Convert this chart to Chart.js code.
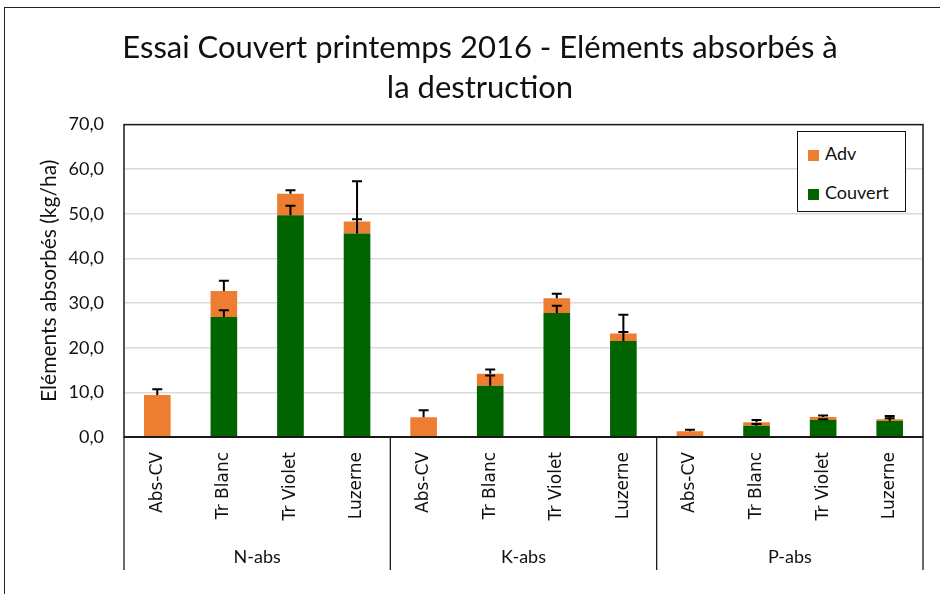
<!DOCTYPE html>
<html>
<head>
<meta charset="utf-8">
<script src="https://cdn.jsdelivr.net/npm/chart.js@4.4.1/dist/chart.umd.min.js"></script>
<style>
  html, body { margin: 0; padding: 0; background: #fff; overflow: hidden; }
  #wrap { position: relative; width: 940px; height: 594px; }
  #frame { position: absolute; left: 4px; top: 7px; width: 1000px; height: 700px; border: 1.5px solid #222; box-sizing: border-box; }
  #c { position: absolute; left: 0; top: 0; }
  #legend { position: absolute; left: 797px; top: 131px; width: 109px; height: 81px; border: 1.3px solid #111; box-sizing: border-box; background: #fff;
            font-family: Lato, "Open Sans", sans-serif; font-size: 18px; color: #111; }
  #legend div { position: absolute; left: 10px; }
  #legend span.sw { display: inline-block; width: 11px; height: 11px; margin-right: 6px; vertical-align: -1px; }
</style>
</head>
<body>
<div id="wrap">
  <div id="frame"></div>
  <canvas id="c" width="940" height="594"></canvas>
  <div id="legend"></div>
</div>
<script>
// categories (level 1) and groups (level 2)
var categories = ['Abs-CV', 'Tr Blanc', 'Tr Violet', 'Luzerne',
                  'Abs-CV', 'Tr Blanc', 'Tr Violet', 'Luzerne',
                  'Abs-CV', 'Tr Blanc', 'Tr Violet', 'Luzerne'];
var groups = ['N-abs', 'K-abs', 'P-abs'];

// series values (kg/ha)
var couvert = [0, 26.9, 49.7, 45.6,   0, 11.5, 27.8, 21.5,   0, 2.5, 3.8, 3.6];
var adv     = [9.4, 5.8, 4.8, 2.7,    4.4, 2.7, 3.3, 1.7,    1.3, 0.8, 0.7, 0.4];

// error bar amounts (plus only)
var errCouvert = [0, 1.5, 2.1, 3.2,   0, 2.3, 1.6, 2.0,   0, 0.4, 0.2, 0.6];
var errAdv     = [1.3, 2.3, 0.8, 9.0, 1.6, 0.9, 1.0, 4.2, 0.3, 0.5, 0.3, 0.7];

var yTicks = [0, 10, 20, 30, 40, 50, 60, 70];

var orange = '#ED7D31';
var green = '#006400';
var font = 'Lato, "Open Sans", sans-serif';

// legend (Adv first, like the original)
var legendEl = document.getElementById('legend');
[['Adv', orange, 10], ['Couvert', green, 49]].forEach(function (it) {
  var d = document.createElement('div');
  d.style.top = it[2] + 'px';
  d.innerHTML = '<span class="sw" style="background:' + it[1] + '"></span>' + it[0];
  legendEl.appendChild(d);
});

var extras = {
  id: 'extras',
  afterDatasetsDraw: function (chart) {
    var ctx = chart.ctx, x = chart.scales.x, y = chart.scales.y;
    var a = chart.chartArea;
    ctx.save();
    // error bars
    ctx.strokeStyle = '#000';
    ctx.lineWidth = 2;
    for (var i = 0; i < categories.length; i++) {
      var cx = x.getPixelForValue(i);
      var bars = [];
      if (couvert[i] > 0 && errCouvert[i] > 0) bars.push([couvert[i], couvert[i] + errCouvert[i]]);
      if (errAdv[i] > 0) bars.push([couvert[i] + adv[i], couvert[i] + adv[i] + errAdv[i]]);
      bars.forEach(function (b) {
        var y0 = y.getPixelForValue(b[0]), y1 = y.getPixelForValue(b[1]);
        ctx.beginPath();
        ctx.moveTo(cx, y0); ctx.lineTo(cx, y1);
        ctx.moveTo(cx - 5, y1); ctx.lineTo(cx + 5, y1);
        ctx.stroke();
      });
    }
    // plot area box
    ctx.strokeStyle = '#1a1a1a';
    ctx.lineWidth = 1.5;
    ctx.strokeRect(a.left, a.top, a.right - a.left, a.bottom - a.top);
    ctx.lineWidth = 2.2;
    ctx.beginPath(); ctx.moveTo(a.left, a.bottom); ctx.lineTo(a.right, a.bottom); ctx.stroke();

    // group separators and group labels
    var step = (x.getPixelForValue(1) - x.getPixelForValue(0));
    ctx.lineWidth = 1.3;
    ctx.strokeStyle = '#1a1a1a';
    ctx.fillStyle = '#111';
    ctx.font = '18px ' + font;
    ctx.textAlign = 'center';
    ctx.textBaseline = 'middle';
    for (var g = 0; g <= groups.length; g++) {
      var px = x.getPixelForValue(g * 4) - step / 2;
      ctx.beginPath(); ctx.moveTo(px, a.bottom); ctx.lineTo(px, a.bottom + 133); ctx.stroke();
      if (g < groups.length) {
        var mid = x.getPixelForValue(g * 4 + 1.5);
        ctx.fillText(groups[g], mid, a.bottom + 120);
      }
    }
    ctx.restore();
  }
};

new Chart(document.getElementById('c'), {
  type: 'bar',
  data: {
    labels: categories,
    datasets: [
      { label: 'Couvert', data: couvert, backgroundColor: green, barPercentage: 0.4, categoryPercentage: 1 },
      { label: 'Adv', data: adv, backgroundColor: orange, barPercentage: 0.4, categoryPercentage: 1 }
    ]
  },
  options: {
    responsive: false,
    animation: false,
    layout: { padding: { left: 37, right: 17, top: 8, bottom: 0 } },
    plugins: {
      legend: { display: false },
      tooltip: { enabled: false },
      title: {
        display: true,
        text: ['Essai Couvert printemps 2016 - Eléments absorbés à', 'la destruction'],
        font: { family: font, size: 31, weight: 'normal', lineHeight: 1.3 },
        color: '#111',
        padding: { top: 20, bottom: 16 }
      }
    },
    scales: {
      x: {
        stacked: true,
        grid: { display: false, drawTicks: false },
        border: { display: false },
        ticks: {
          minRotation: 90, maxRotation: 90, autoSkip: false, padding: 15,
          color: '#111', font: { family: '"DejaVu Sans", Verdana, sans-serif', size: 17 }
        },
        afterFit: function (s) { s.height = 157; }
      },
      y: {
        stacked: true,
        min: 0, max: 70,
        afterBuildTicks: function (s) { s.ticks = yTicks.map(function (v) { return { value: v }; }); },
        grid: { color: '#d9d9d9', lineWidth: 1.5, drawTicks: false },
        border: { display: false },
        ticks: {
          padding: 20, color: '#111',
          font: { family: font, size: 18 },
          callback: function (v) { return v.toFixed(1).replace('.', ','); }
        },
        title: {
          display: true, text: 'Eléments absorbés (kg/ha)',
          color: '#111', font: { family: font, size: 21 }, padding: { top: 0, bottom: 0 }
        },
        afterFit: function (s) { s.width = 87; }
      }
    }
  },
  plugins: [extras]
});
</script>
</body>
</html>
